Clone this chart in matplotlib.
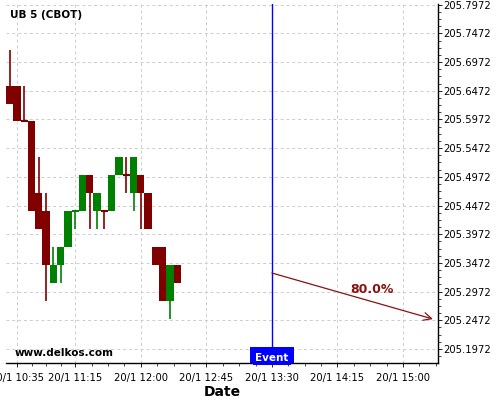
import datetime as dt
import numpy as np
import matplotlib
matplotlib.use("Agg")
import matplotlib.pyplot as plt
import matplotlib.dates as mdates
from matplotlib.ticker import FixedLocator, FuncFormatter

# 5 minute bars, prices in 32nds above 205
opens_32 = [21, 21, 19, 19, 15, 14, 10, 11, 12, 14, 14, 16, 14, 14, 14, 16, 16, 15, 16, 15, 12, 12, 9, 11]
highs_32 = [23, 21, 21, 19, 17, 15, 12, 12, 14, 14, 16, 16, 15, 14, 16, 17, 17, 17, 16, 15, 12, 12, 11, 11]
lows_32 = [20, 19, 19, 14, 13, 9, 10, 10, 12, 13, 14, 13, 13, 13, 14, 16, 15, 14, 13, 13, 11, 9, 8, 10]
closes_32 = [20, 19, 19, 14, 13, 11, 11, 12, 14, 14, 16, 15, 15, 14, 16, 17, 16, 17, 15, 13, 11, 9, 11, 10]
bullish = [False, False, False, False, False, False, True, True, True, True, True, False,
           True, False, True, True, False, True, False, False, False, False, True, False]

start = dt.datetime(2017, 1, 20, 10, 30)
event_time = dt.datetime(2017, 1, 20, 13, 30)
target_time = dt.datetime(2017, 1, 20, 15, 20, 30)
event_price = 205.3296
target_price = 205.2494
prob_label = "80.0%"

xtick_times = ["10:35", "11:15", "12:00", "12:45", "13:30", "14:15", "15:00"]
ytick_vals = [205.1972 + 0.05 * j for j in range(13)]

opens = 205 + np.array(opens_32) / 32
highs = 205 + np.array(highs_32) / 32
lows = 205 + np.array(lows_32) / 32
closes = 205 + np.array(closes_32) / 32
times = [start + dt.timedelta(minutes=5 * i) for i in range(len(opens))]
xt = mdates.date2num(times)
width = 5 / 1440

red = "#800000"
green = "#008000"

fig = plt.figure(figsize=(5, 4), dpi=100)
ax = fig.add_axes([0.012, 0.0925, 0.864, 0.8975])

for x, o, h, l, c, up in zip(xt, opens, highs, lows, closes, bullish):
    col = green if up else red
    ax.vlines(x, l, h, color=col, linewidth=1.2, zorder=3)
    if o == c:
        ax.hlines(o, x - width / 2, x + width / 2, color=col, linewidth=1.5, zorder=3)
    else:
        ax.bar(x, abs(c - o), bottom=min(o, c), width=width, color=col,
               linewidth=0, zorder=4)

# event line and projection arrow
ev = mdates.date2num(event_time)
ax.axvline(ev, color="blue", linewidth=1, zorder=5)
ax.annotate("", xy=(mdates.date2num(target_time), target_price),
            xytext=(ev, event_price),
            arrowprops=dict(arrowstyle="->", color="#8b1010", lw=0.9,
                            mutation_scale=14, shrinkA=0, shrinkB=0), zorder=6)
ax.text(mdates.date2num(dt.datetime(2017, 1, 20, 14, 38, 40)), 205.3017, prob_label,
        color="#8b1010", fontsize=9, fontweight="bold", ha="center", va="center")

ymin, ymax = 205.1728, 205.7984
ax.set_ylim(ymin, ymax)
ax.set_xlim(mdates.date2num(dt.datetime(2017, 1, 20, 10, 27, 27)),
            mdates.date2num(dt.datetime(2017, 1, 20, 15, 24)))

ax.text(ev, ymin, "Event", color="white", fontsize=7.5, fontweight="bold",
        ha="center", va="bottom",
        bbox=dict(boxstyle="square,pad=0.2", facecolor="blue", edgecolor="blue",
                  linewidth=0),
        zorder=7)
ax.text(ev, ymin, "Event", color="none", fontsize=7.5, fontweight="bold",
        ha="center", va="bottom",
        bbox=dict(boxstyle="square,pad=0.55", facecolor="blue", edgecolor="none"),
        zorder=6.5, clip_on=True)

# ticks
major = [mdates.date2num(dt.datetime.combine(start.date(), dt.time(int(s[:2]), int(s[3:]))))
         for s in xtick_times]
minor = []
for a, b in zip(major[:-1], major[1:]):
    minor += list(np.linspace(a, b, 5)[1:-1])
step = major[-1] - major[-2]
minor += [major[-1] + step / 4, major[-1] + step / 2]
ax.xaxis.set_major_locator(FixedLocator(major))
ax.xaxis.set_minor_locator(FixedLocator(minor))


def fmt_date(v, pos):
    d = mdates.num2date(v)
    return f"{d.day}/{d.month} {d:%H:%M}"


ax.xaxis.set_major_formatter(FuncFormatter(fmt_date))

ax.yaxis.tick_right()
ax.yaxis.set_major_locator(FixedLocator(ytick_vals))
ax.yaxis.set_minor_locator(FixedLocator(
    [ytick_vals[0] - 0.0125] + [v + 0.0125 * k for v in ytick_vals[:-1] for k in (1, 2, 3)]))
ax.yaxis.set_major_formatter(FuncFormatter(lambda v, p: f"{v:.4f}"))

ax.tick_params(axis="x", which="major", labelsize=7.2, length=3, width=0.6, pad=4)
ax.tick_params(axis="y", which="major", labelsize=7.2, length=3, width=0.6, pad=1)
ax.tick_params(axis="both", which="minor", length=2, width=0.5)

for s in ["left", "top"]:
    ax.spines[s].set_visible(False)
for s in ["right", "bottom"]:
    ax.spines[s].set_linewidth(1)

ax.grid(True, which="major", color="#cccccc", linestyle=(0, (3, 3)), linewidth=0.7)
ax.set_axisbelow(True)

ax.set_xlabel("Date", fontsize=10, fontweight="bold", labelpad=2)
ax.text(0.009, 0.969, "UB 5 (CBOT)", transform=ax.transAxes, fontsize=7.5,
        fontweight="bold", ha="left", va="center")
ax.text(0.021, 0.028, "www.delkos.com", transform=ax.transAxes, fontsize=7.5,
        fontweight="bold", ha="left", va="center")

fig.savefig("out.png", dpi=100)
